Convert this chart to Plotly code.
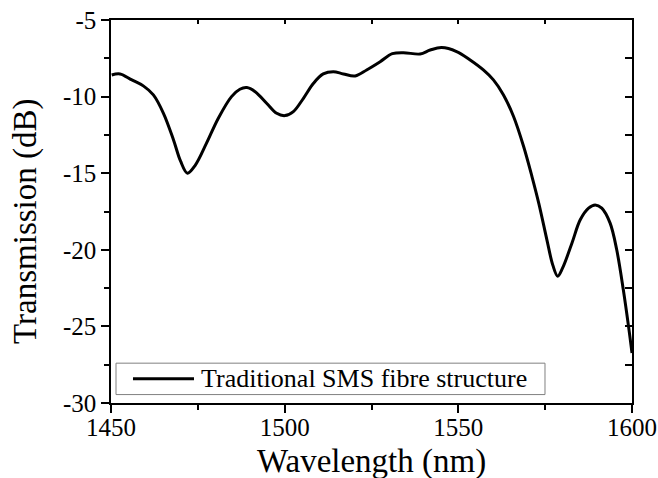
import plotly.graph_objects as go

wavelength = [1450.2, 1452.6, 1456.0, 1459.3, 1462.2, 1465.1, 1468.0, 1470.0, 1472.0, 1474.2,
              1477.5, 1480.9, 1484.7, 1487.1, 1489.1, 1491.5, 1494.8, 1497.7, 1500.1, 1502.5,
              1505.4, 1508.3, 1511.1, 1514.0, 1516.9, 1520.3, 1523.6, 1527.5, 1531.0, 1534.2,
              1539.0, 1541.9, 1545.2, 1549.5, 1553.4, 1557.2, 1560.1, 1563.0, 1565.9, 1568.8,
              1571.2, 1573.2, 1575.5, 1577.2, 1578.6, 1580.0, 1582.7, 1585.1, 1587.5, 1589.4,
              1591.3, 1593.7, 1595.6, 1597.5, 1599.0, 1600.0]
transmission = [-8.59, -8.52, -8.91, -9.30, -9.89, -11.09, -12.83, -14.20, -15.00, -14.50,
                -13.04, -11.41, -10.00, -9.52, -9.41, -9.68, -10.43, -11.09, -11.24, -10.98,
                -10.11, -9.13, -8.52, -8.37, -8.52, -8.65, -8.26, -7.72, -7.20, -7.13,
                -7.22, -6.96, -6.80, -7.06, -7.61, -8.26, -8.91, -9.89, -11.30, -13.26,
                -15.22, -17.00, -19.35, -21.00, -21.72, -21.20, -19.57, -18.04, -17.28, -17.07,
                -17.28, -18.26, -20.00, -22.61, -25.00, -26.74]

series_name = "Traditional SMS fibre structure"
x_title = "Wavelength (nm)"
y_title = "Transmission (dB)"
x_ticks = [1450, 1500, 1550, 1600]
y_ticks = [-30, -25, -20, -15, -10, -5]
y_ticktext = ["-30", "-25", "-20", "-15", "-10", "-5"]

FONT = "Liberation Serif, Times New Roman, serif"

fig = go.Figure()
fig.add_trace(go.Scatter(x=wavelength, y=transmission, mode="lines",
                         line=dict(color="black", width=3, shape="spline", smoothing=1.0),
                         name=series_name, showlegend=False))
# helper traces for mirrored (inward) top/right axes and bottom label axis
fig.add_trace(go.Scatter(x=wavelength, y=transmission, mode="lines", xaxis="x2", yaxis="y2",
                         line=dict(width=0), opacity=0, showlegend=False, hoverinfo="skip"))
fig.add_trace(go.Scatter(x=wavelength, y=transmission, mode="lines", xaxis="x3", yaxis="y",
                         line=dict(width=0), opacity=0, showlegend=False, hoverinfo="skip"))

axis_common = dict(showgrid=False, zeroline=False, showline=True, linecolor="black", linewidth=1.5,
                   tickcolor="black", tickwidth=1.5, automargin=False,
                   tickfont=dict(family=FONT, size=25, color="black"))

# manual legend box (paper coordinates)
leg_x0, leg_x1, leg_y0, leg_y1 = 0.0096, 0.833, 0.022, 0.104
leg_ymid = (leg_y0 + leg_y1) / 2

fig.update_layout(
    width=658, height=478,
    margin=dict(l=111, r=26, t=20, b=75),
    paper_bgcolor="white", plot_bgcolor="white",
    font=dict(family=FONT, color="black"),
    xaxis=dict(range=[1450, 1600], tickvals=x_ticks, ticks="outside", ticklen=8,
               showticklabels=False,
               minor=dict(dtick=25, ticks="outside", ticklen=5, tickcolor="black", tickwidth=1.5),
               **axis_common),
    xaxis3=dict(range=[1450, 1600], overlaying="x", side="bottom", anchor="y", tickvals=x_ticks,
                ticks="", showline=False, showgrid=False, zeroline=False, automargin=False,
                ticklabelstandoff=7,
                tickfont=dict(family=FONT, size=25, color="black")),
    yaxis=dict(range=[-30, -5], tickvals=y_ticks, ticktext=y_ticktext, ticks="outside", ticklen=8,
               minor=dict(dtick=2.5, ticks="outside", ticklen=5, tickcolor="black", tickwidth=1.5),
               **axis_common),
    xaxis2=dict(range=[1450, 1600], overlaying="x", side="top", anchor="y", dtick=25, tick0=1450,
                ticks="inside", ticklen=4, showticklabels=False, **axis_common),
    yaxis2=dict(range=[-30, -5], overlaying="y", side="right", anchor="x", dtick=2.5, tick0=-30,
                ticks="inside", ticklen=7, showticklabels=False, **axis_common),
    showlegend=False,
    shapes=[
        dict(type="rect", xref="paper", yref="paper", x0=leg_x0, x1=leg_x1, y0=leg_y0, y1=leg_y1,
             line=dict(color="#808080", width=1), fillcolor="white", layer="above"),
        dict(type="line", xref="paper", yref="paper", x0=0.0422, x1=0.1593, y0=leg_ymid, y1=leg_ymid,
             line=dict(color="black", width=3), layer="above"),
    ],
    annotations=[
        dict(text=series_name, xref="paper", yref="paper", x=0.168, y=leg_ymid, xanchor="left",
             yanchor="middle", showarrow=False, font=dict(family=FONT, size=26, color="black")),
        dict(text=x_title, xref="paper", yref="paper", x=0.5, y=-0.1, xanchor="center",
             yanchor="top", showarrow=False, font=dict(family=FONT, size=33, color="black")),
        dict(text=y_title, xref="paper", yref="paper", x=-0.163, y=0.473, xanchor="center",
             yanchor="middle", textangle=-90, showarrow=False,
             font=dict(family=FONT, size=33, color="black")),
    ],
)

fig.write_html("out.html")
